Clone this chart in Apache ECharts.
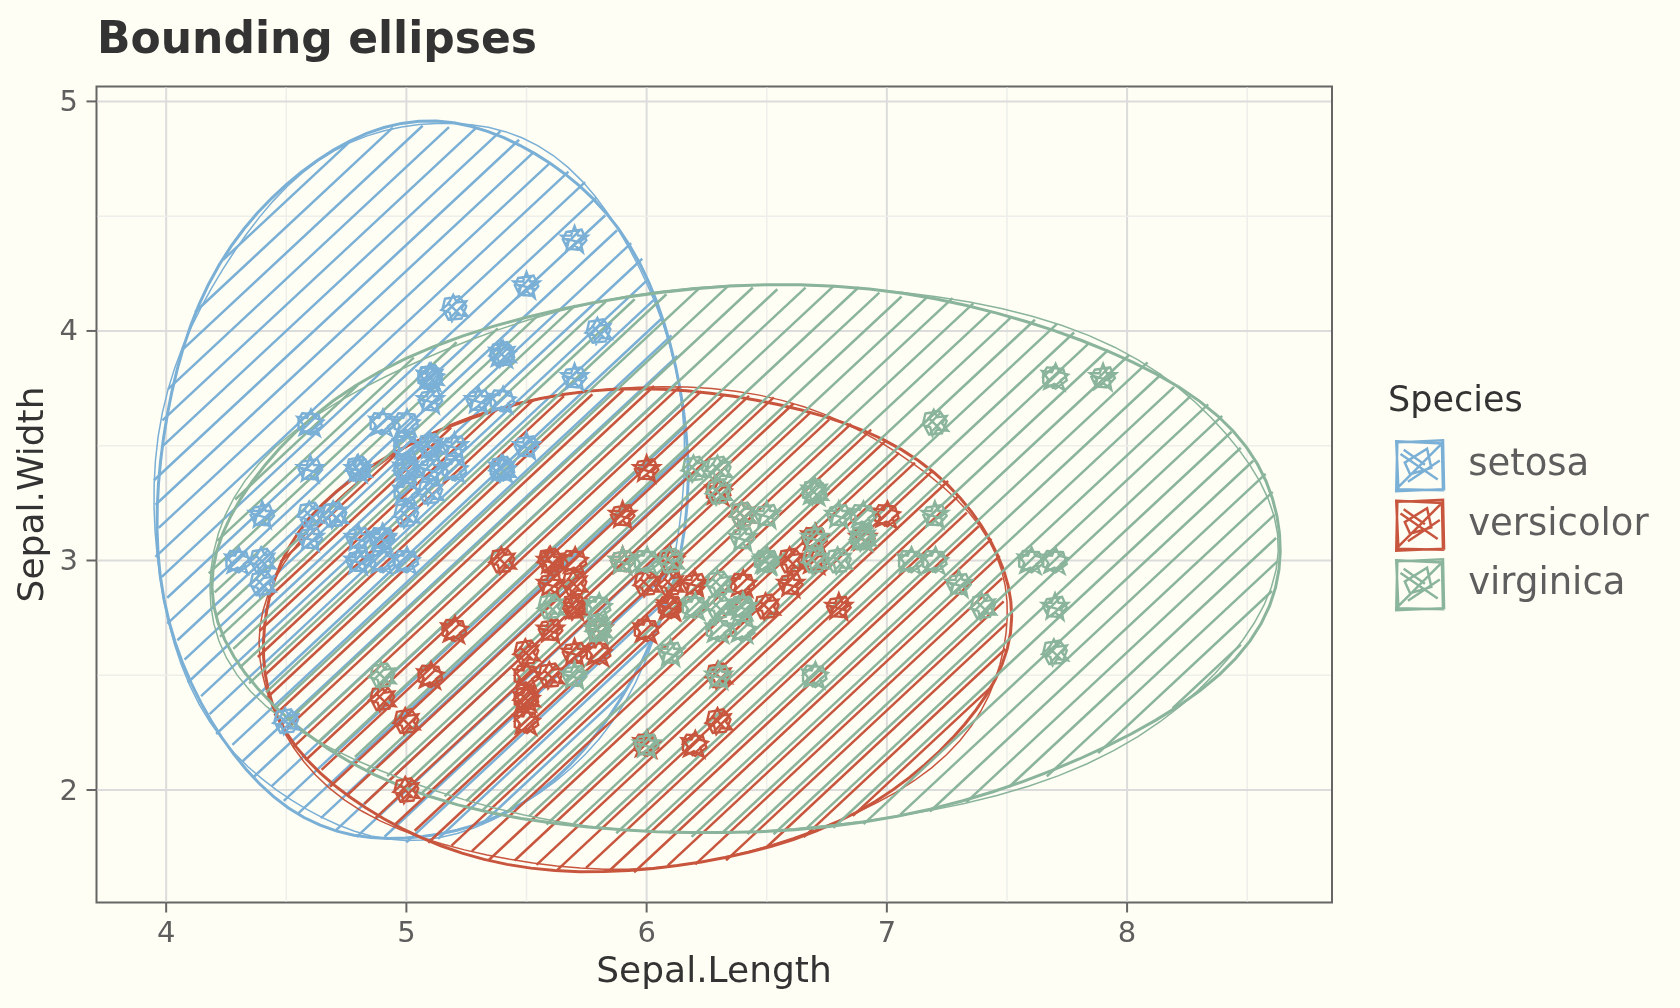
<!DOCTYPE html>
<html lang="en">
<head>
<meta charset="UTF-8">
<title>Bounding ellipses</title>
<script src="https://cdn.jsdelivr.net/npm/echarts@6/dist/echarts.min.js"></script>
<style>
    html, body { margin: 0; padding: 0; background: #fffef4; }
    #main { width: 1680px; height: 1008px; }
</style>
</head>
<body>
<div id="main"></div>
<script>
    var species = ['setosa', 'versicolor', 'virginica'];
    var colors = ['#7aafd6', '#c8553d', '#8ab49b'];

    // iris: Sepal.Length / Sepal.Width
    var setosaLength = [5.1,4.9,4.7,4.6,5.0,5.4,4.6,5.0,4.4,4.9,5.4,4.8,4.8,4.3,5.8,5.7,5.4,5.1,5.7,5.1,
        5.4,5.1,4.6,5.1,4.8,5.0,5.0,5.2,5.2,4.7,4.8,5.4,5.2,5.5,4.9,5.0,5.5,4.9,4.4,5.1,
        5.0,4.5,4.4,5.0,5.1,4.8,5.1,4.6,5.3,5.0];
    var setosaWidth = [3.5,3.0,3.2,3.1,3.6,3.9,3.4,3.4,2.9,3.1,3.7,3.4,3.0,3.0,4.0,4.4,3.9,3.5,3.8,3.8,
        3.4,3.7,3.6,3.3,3.4,3.0,3.4,3.5,3.4,3.2,3.1,3.4,4.1,4.2,3.1,3.2,3.5,3.6,3.0,3.4,
        3.5,2.3,3.2,3.5,3.8,3.0,3.8,3.2,3.7,3.3];
    var versicolorLength = [7.0,6.4,6.9,5.5,6.5,5.7,6.3,4.9,6.6,5.2,5.0,5.9,6.0,6.1,5.6,6.7,5.6,5.8,6.2,5.6,
        5.9,6.1,6.3,6.1,6.4,6.6,6.8,6.7,6.0,5.7,5.5,5.5,5.8,6.0,5.4,6.0,6.7,6.3,5.6,5.5,
        5.5,6.1,5.8,5.0,5.6,5.7,5.7,6.2,5.1,5.7];
    var versicolorWidth = [3.2,3.2,3.1,2.3,2.8,2.8,3.3,2.4,2.9,2.7,2.0,3.0,2.2,2.9,2.9,3.1,3.0,2.7,2.2,2.5,
        3.2,2.8,2.5,2.8,2.9,3.0,2.8,3.0,2.9,2.6,2.4,2.4,2.7,2.7,3.0,3.4,3.1,2.3,3.0,2.5,
        2.6,3.0,2.6,2.3,2.7,3.0,2.9,2.9,2.5,2.8];
    var virginicaLength = [6.3,5.8,7.1,6.3,6.5,7.6,4.9,7.3,6.7,7.2,6.5,6.4,6.8,5.7,5.8,6.4,6.5,7.7,7.7,6.0,
        6.9,5.6,7.7,6.3,6.7,7.2,6.2,6.1,6.4,7.2,7.4,7.9,6.4,6.3,6.1,7.7,6.3,6.4,6.0,6.9,
        6.7,6.9,5.8,6.8,6.7,6.7,6.3,6.5,6.2,5.9];
    var virginicaWidth = [3.3,2.7,3.0,2.9,3.0,3.0,2.5,2.9,2.5,3.6,3.2,2.7,3.0,2.5,2.8,3.2,3.0,3.8,2.6,2.2,
        3.2,2.8,2.8,2.7,3.3,3.2,2.8,3.0,2.8,3.0,2.8,3.8,2.8,2.8,2.6,3.0,3.4,3.1,3.0,3.1,
        3.1,3.1,2.7,3.2,3.3,3.0,2.5,3.0,3.4,3.0];

    // bounding ellipses (data units, angle in degrees)
    var ellipseCx = [5.06, 5.945, 6.41];
    var ellipseCy = [3.34, 2.70, 3.00];
    var ellipseA = [1.565, 1.56, 2.225];
    var ellipseB = [1.10, 1.047, 1.19];
    var ellipseAngle = [85, 4.5, 3];

    var xRange = [3.71, 8.853];
    var yRange = [1.51, 5.065];
    var xMajor = [4, 5, 6, 7, 8];
    var xMinor = [4.5, 5.5, 6.5, 7.5, 8.5];
    var yMajor = [2, 3, 4, 5];
    var yMinor = [2.5, 3.5, 4.5];
    var xTickLabels = ['4', '5', '6', '7', '8'];
    var yTickLabels = ['2', '3', '4', '5'];

    var FONT = '"DejaVu Sans", "Noto Sans", sans-serif';
    var HATCH = 43 * Math.PI / 180;
    var hatchGap = [19, 18, 18];

    // scribbled marks (rough star + polygon + hatching)
    var pointPaths = [
        'M12 1 L15 9 L23 9 L17 14 L19 23 L12 17 L5 22 L7 14 L1 9 L9 9 Z ' +
        'M5 6 L18 4 L22 13 L15 21 L6 20 L2 12 Z M4 17 L17 4 M8 21 L21 8 M3 11 L20 16',
        'M2 7 L10 8 L13 1 L16 8 L23 10 L17 15 L20 23 L12 18 L4 22 L7 14 Z ' +
        'M6 4 L19 5 L22 15 L13 22 L3 17 L3 9 Z M5 19 L19 5 M2 13 L12 3 M10 22 L22 11',
        'M11 2 L14 8 L22 7 L18 13 L23 19 L14 18 L10 23 L8 16 L1 14 L7 9 Z ' +
        'M4 5 L16 3 L22 11 L18 21 L7 22 L2 13 Z M4 17 L17 4 M8 21 L21 8 M6 8 L18 19'
    ];
    var keyPath = 'M2 3 L45 1 L46 47 L1 49 Z M1 2 L44 4 L45 48 L3 47 Z ' +
        'M2 46 L45 3 M5 14 L40 38 M9 22 L30 9 L34 27 L14 33 Z M8 10 L28 24 M12 40 L42 20';

    function ellipsePixels(api, i, wobble, phase) {
        var t = ellipseAngle[i] * Math.PI / 180;
        var pts = [];
        var n = 96;
        for (var k = 0; k <= n; k++) {
            var phi = 2 * Math.PI * k / n;
            var r = 1 + wobble * Math.sin(3 * phi + phase) + wobble * 0.6 * Math.sin(7 * phi + 2 * phase);
            var ca = ellipseA[i] * r * Math.cos(phi);
            var sb = ellipseB[i] * r * Math.sin(phi);
            var dx = ca * Math.cos(t) - sb * Math.sin(t);
            var dy = ca * Math.sin(t) + sb * Math.cos(t);
            pts.push(api.coord([ellipseCx[i] + dx, ellipseCy[i] + dy]));
        }
        return pts;
    }

    function hatchLines(pts, gap, seed, color) {
        var nx = Math.sin(HATCH), ny = Math.cos(HATCH);
        var dx = Math.cos(HATCH), dy = -Math.sin(HATCH);
        var s = pts.map(function (p) { return p[0] * nx + p[1] * ny; });
        var smin = Math.min.apply(null, s), smax = Math.max.apply(null, s);
        var out = [];
        var j = 0;
        for (var c = smin + gap * 0.6; c < smax; c += gap, j++) {
            var hits = [];
            for (var k = 0; k < pts.length - 1; k++) {
                var s0 = s[k], s1 = s[k + 1];
                if ((s0 - c) * (s1 - c) <= 0 && s0 !== s1) {
                    var u = (c - s0) / (s1 - s0);
                    hits.push([pts[k][0] + u * (pts[k + 1][0] - pts[k][0]),
                        pts[k][1] + u * (pts[k + 1][1] - pts[k][1])]);
                }
            }
            if (hits.length < 2) continue;
            hits.sort(function (p, q) { return (p[0] * dx + p[1] * dy) - (q[0] * dx + q[1] * dy); });
            var a = hits[0], b = hits[hits.length - 1];
            var e0 = 4 * Math.sin(j * 2.17 + seed), e1 = 4 * Math.sin(j * 1.31 + seed * 2);
            out.push({
                type: 'line',
                shape: { x1: a[0] - dx * e0, y1: a[1] - dy * e0, x2: b[0] + dx * e1, y2: b[1] + dy * e1 },
                style: { stroke: color, lineWidth: 2.5 }
            });
        }
        return out;
    }

    function renderEllipse(params, api) {
        var i = params.dataIndex;
        var base = ellipsePixels(api, i, 0, 0);
        var children = hatchLines(base, hatchGap[i], i * 1.7 + 0.5, colors[i]);
        children.push({
            type: 'polyline', shape: { points: ellipsePixels(api, i, 0.008, i + 0.3) },
            style: { stroke: colors[i], lineWidth: 3, fill: null }
        });
        children.push({
            type: 'polyline', shape: { points: ellipsePixels(api, i, 0.01, i + 2.1) },
            style: { stroke: colors[i], lineWidth: 1.5, fill: null }
        });
        return { type: 'group', children: children, silent: true };
    }

    // kind: 0 x minor, 1 x major, 2 y minor, 3 y major
    function renderGridLine(params, api) {
        var cs = params.coordSys;
        var v = api.value(0), kind = api.value(1);
        var style = kind % 2 === 1 ? { stroke: '#dcdcdc', lineWidth: 2 } : { stroke: '#eeeeea', lineWidth: 1.5 };
        if (kind < 2) {
            var x = api.coord([v, yRange[0]])[0];
            return { type: 'line', silent: true, shape: { x1: x, y1: cs.y + 1, x2: x, y2: cs.y + cs.height - 1 }, style: style };
        }
        var y = api.coord([xRange[0], v])[1];
        return { type: 'line', silent: true, shape: { x1: cs.x + 1, y1: y, x2: cs.x + cs.width - 1, y2: y }, style: style };
    }

    // kind: 0 x tick, 1 y tick; value(2) = label index
    function renderTick(params, api) {
        var cs = params.coordSys;
        var v = api.value(0), kind = api.value(1), idx = api.value(2);
        var tickStyle = { stroke: '#666666', lineWidth: 2 };
        var labelStyle = { fill: '#5e5e5e', fontSize: 29, fontFamily: FONT, verticalAlign: 'middle' };
        if (kind === 0) {
            var x = api.coord([v, yRange[0]])[0];
            var yb = cs.y + cs.height;
            return { type: 'group', silent: true, children: [
                { type: 'line', shape: { x1: x, y1: yb, x2: x, y2: yb + 10 }, style: tickStyle },
                { type: 'text', style: Object.assign({ text: xTickLabels[idx], x: x, y: 934.5, align: 'center' }, labelStyle) }
            ] };
        }
        var y = api.coord([xRange[0], v])[1];
        return { type: 'group', silent: true, children: [
            { type: 'line', shape: { x1: cs.x - 10, y1: y, x2: cs.x, y2: y }, style: tickStyle },
            { type: 'text', style: Object.assign({ text: yTickLabels[idx], x: 78, y: y + 2, align: 'right' }, labelStyle) }
        ] };
    }

    var gridData = [];
    xMinor.forEach(function (v) { gridData.push([v, 0]); });
    xMajor.forEach(function (v) { gridData.push([v, 1]); });
    yMinor.forEach(function (v) { gridData.push([v, 2]); });
    yMajor.forEach(function (v) { gridData.push([v, 3]); });

    var tickData = [];
    xMajor.forEach(function (v, i) { tickData.push([v, 0, i]); });
    yMajor.forEach(function (v, i) { tickData.push([v, 1, i]); });

    var lengths = [setosaLength, versicolorLength, virginicaLength];
    var widths = [setosaWidth, versicolorWidth, virginicaWidth];

    var series = [
        { type: 'custom', name: 'grid', renderItem: renderGridLine, data: gridData, z: 1, silent: true },
        { type: 'custom', name: 'ticks', renderItem: renderTick, data: tickData, z: 1, silent: true },
        {
            type: 'custom', name: 'ellipses', renderItem: renderEllipse, z: 2, silent: true,
            data: species.map(function (s, i) { return [ellipseCx[i], ellipseCy[i]]; })
        }
    ];
    species.forEach(function (name, i) {
        series.push({
            type: 'scatter',
            name: name,
            z: 5,
            symbol: function (value, params) {
                return 'path://' + pointPaths[(params.dataIndex + i) % pointPaths.length];
            },
            symbolSize: 26,
            itemStyle: { color: 'transparent', borderColor: colors[i], borderWidth: 2.4, opacity: 1 },
            emphasis: { disabled: true },
            data: lengths[i].map(function (x, k) { return [x, widths[i][k]]; })
        });
    });

    var myChart = echarts.init(document.getElementById('main'));
    var option = {
        backgroundColor: '#fffef4',
        animation: false,
        grid: {
            left: 96.5, top: 86.5, width: 1235.5, height: 816,
            show: true, borderColor: '#666666', borderWidth: 2, backgroundColor: 'transparent'
        },
        xAxis: {
            type: 'value', min: xRange[0], max: xRange[1],
            axisLine: { show: false }, axisTick: { show: false }, axisLabel: { show: false }, splitLine: { show: false }
        },
        yAxis: {
            type: 'value', min: yRange[0], max: yRange[1],
            axisLine: { show: false }, axisTick: { show: false }, axisLabel: { show: false }, splitLine: { show: false }
        },
        legend: {
            orient: 'vertical',
            left: 1395, top: 439, padding: 0,
            itemWidth: 48, itemHeight: 51, itemGap: 6,
            icon: 'path://' + keyPath,
            itemStyle: { borderWidth: 2.5 },
            textStyle: { fontSize: 37, color: '#5e5e5e', fontFamily: FONT, padding: [0, 0, 0, 19] },
            selectedMode: false,
            data: species
        },
        graphic: [
            {
                type: 'text', x: 97, y: 42,
                style: { text: 'Bounding ellipses', fill: '#333333', font: 'bold 44px ' + FONT, align: 'left', verticalAlign: 'middle' }
            },
            {
                type: 'text', x: 714, y: 972.5,
                style: { text: 'Sepal.Length', fill: '#333333', font: '36px ' + FONT, align: 'center', verticalAlign: 'middle' }
            },
            {
                type: 'text', x: 33.5, y: 494.5, rotation: Math.PI / 2,
                style: { text: 'Sepal.Width', fill: '#333333', font: '36px ' + FONT, align: 'center', verticalAlign: 'middle' }
            },
            {
                type: 'text', x: 1388, y: 402,
                style: { text: 'Species', fill: '#333333', font: '35px ' + FONT, align: 'left', verticalAlign: 'middle' }
            }
        ],
        series: series
    };
    myChart.setOption(option);
</script>
</body>
</html>
